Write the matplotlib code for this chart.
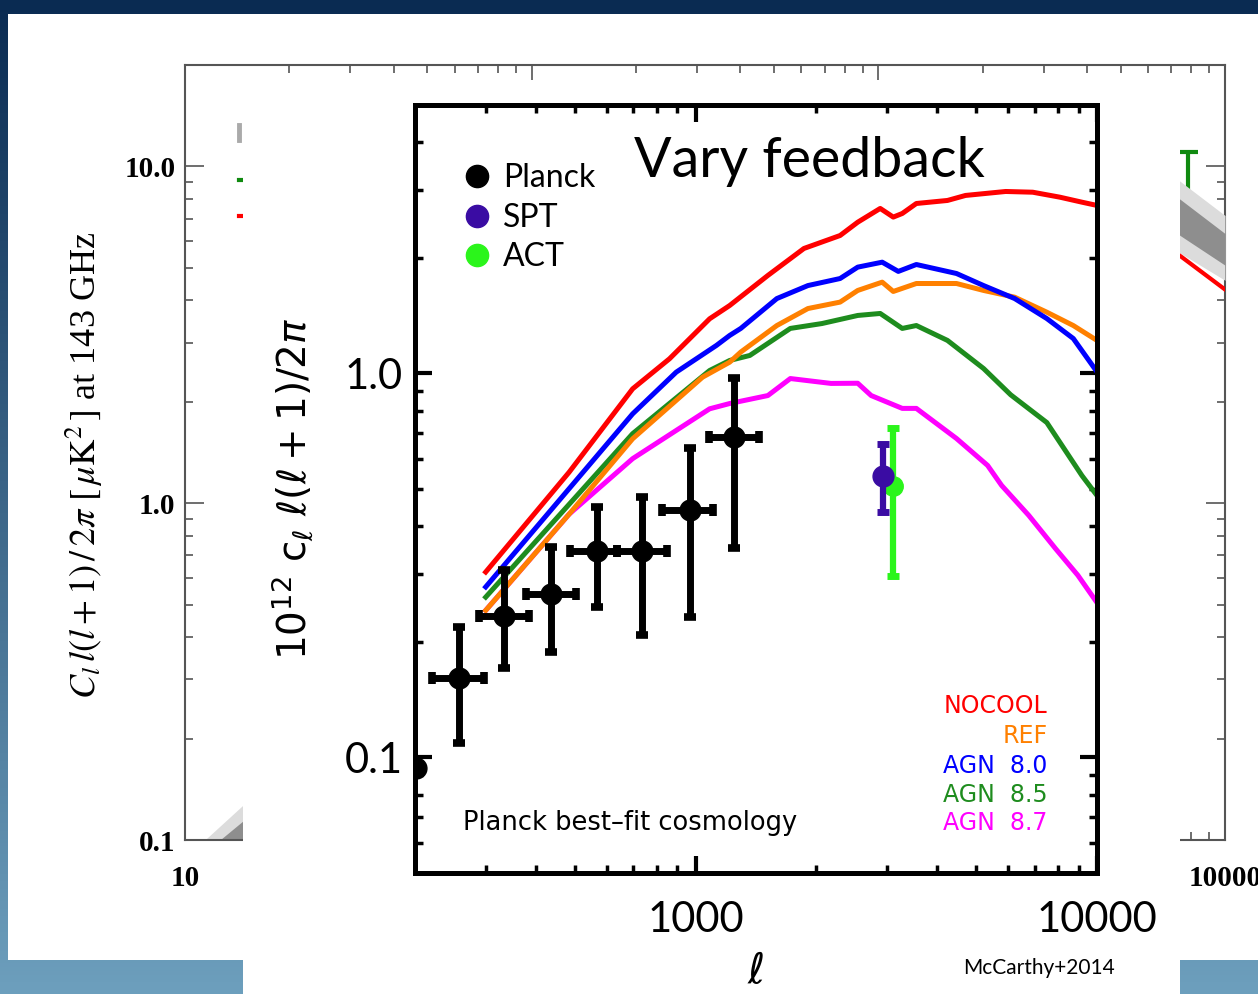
import numpy as np
import matplotlib.pyplot as plt
from matplotlib.patches import Rectangle
from matplotlib.lines import Line2D
from matplotlib.ticker import LogLocator, NullFormatter

# ---- front panel: tSZ power spectrum models vs data (McCarthy+2014) ----
# x = multipole ell, y = 10^12 C_l l(l+1)/2pi
nocool_ell = [300, 484, 697, 861, 1084, 1216, 1514, 1862, 2291, 2535, 2884, 3108, 3273, 3548, 4242, 4704, 5922, 6918, 8081, 9173, 10000]
nocool_val = [0.304, 0.553, 0.912, 1.092, 1.388, 1.503, 1.80, 2.116, 2.287, 2.477, 2.69, 2.554, 2.61, 2.771, 2.822, 2.908, 2.978, 2.965, 2.878, 2.793, 2.739]

ref_ell = [300, 484, 697, 1041, 1216, 1296, 1594, 1905, 2291, 2535, 2917, 3108, 3548, 4467, 5218, 6237, 7499, 8730, 10000]
ref_val = [0.2415, 0.43, 0.676, 0.978, 1.07, 1.137, 1.333, 1.476, 1.534, 1.645, 1.729, 1.635, 1.715, 1.715, 1.645, 1.58, 1.444, 1.333, 1.219]

agn80_ell = [300, 697, 895, 1127, 1216, 1296, 1594, 1905, 2291, 2535, 2917, 3199, 3548, 4467, 5218, 6237, 7499, 8730, 10000]
agn80_val = [0.278, 0.785, 1.008, 1.183, 1.256, 1.31, 1.567, 1.694, 1.767, 1.892, 1.949, 1.844, 1.922, 1.821, 1.694, 1.567, 1.39, 1.233, 1.01]

agn85_ell = [300, 697, 1084, 1216, 1365, 1722, 2065, 2535, 2884, 3273, 3548, 4242, 5218, 6095, 7499, 9173, 10000]
agn85_val = [0.2615, 0.697, 1.018, 1.081, 1.114, 1.31, 1.349, 1.416, 1.433, 1.31, 1.333, 1.219, 1.03, 0.88, 0.745, 0.542, 0.481]

agn87_ell = [300, 484, 697, 1084, 1216, 1514, 1722, 2175, 2535, 2738, 3273, 3548, 4467, 5340, 5786, 6761, 7880, 8964, 10000]
agn87_val = [0.2415, 0.43, 0.600, 0.809, 0.835, 0.876, 0.97, 0.942, 0.943, 0.876, 0.811, 0.811, 0.677, 0.576, 0.511, 0.427, 0.35, 0.298, 0.253]

model_names = ['NOCOOL', 'REF', 'AGN  8.0', 'AGN  8.5', 'AGN  8.7']
model_colors = ['#ff0000', '#ff8000', '#0000ff', '#1e8c1e', '#ff00ff']

planck_ell = [201, 257, 333, 437, 569, 737, 966, 1248]
planck_ell_lo = [201, 220, 288, 378, 487, 638, 827, 1078]
planck_ell_hi = [201, 297, 385, 504, 638, 851, 1103, 1437]
planck_val = [0.094, 0.161, 0.234, 0.267, 0.344, 0.344, 0.442, 0.685]
planck_lo = [0.094, 0.109, 0.171, 0.188, 0.246, 0.208, 0.232, 0.352]
planck_hi = [0.094, 0.218, 0.307, 0.354, 0.448, 0.478, 0.638, 0.976]

spt_ell, spt_val, spt_lo, spt_hi = [2930], [0.542], [0.435], [0.657]
act_ell, act_val, act_lo, act_hi = [3100], [0.509], [0.296], [0.722]

# ---- slide plot behind the panel (only edges visible) ----
bg_light_ell = [10, 11.4, 14.7, 20]
bg_light_top = [0.08, 0.1, 0.127, 0.175]
bg_dark_ell = [12.6, 14.7, 20]
bg_dark_top = [0.1, 0.114, 0.15]

hi_ell = [7000, 7465, 10000]
hi_light_top = [9.45, 8.99, 7.15]
hi_light_bot = [5.75, 5.51, 4.59]
hi_dark_top = [8.35, 7.95, 6.32]
hi_dark_bot = [6.5, 6.21, 5.09]
hi_red = [5.65, 5.40, 4.31]
hi_pt_ell, hi_pt_val, hi_pt_lo, hi_pt_hi = [7816], [8.0], [6.0], [11.04]

key_ell = [14.3, 20]
key_green = 9.12
key_red = 7.12
key_gray = [12.0, 13.3]


fig = plt.figure(figsize=(12.58, 9.94), dpi=100)

# slide gradient + white card
ax_slide = fig.add_axes([0, 0, 1, 1], zorder=0)
c_top = np.array([10, 43, 82]) / 255
c_bot = np.array([109, 159, 189]) / 255
t = np.linspace(0, 1, 256)[:, None]
grad = c_top + (c_bot - c_top) * t
ax_slide.imshow(grad[:, None, :], aspect='auto', extent=[0, 1, 0, 1])
ax_slide.axis('off')
fig.add_artist(Rectangle((8 / 1258, 34 / 994), 1, 946 / 994, transform=fig.transFigure,
                         facecolor='white', edgecolor='none', zorder=0.5))

# background plot
serif = 'Liberation Serif'
axb = fig.add_axes([0.1471, 0.1549, 0.8267, 0.7797], zorder=1)
axb.patch.set_visible(False)
axb.set_xscale('log')
axb.set_yscale('log')
axb.fill_between(bg_light_ell, 0.01, bg_light_top, color='#dcdcdc', lw=0)
axb.fill_between(bg_dark_ell, 0.01, bg_dark_top, color='#8e8e8e', lw=0)
axb.errorbar(hi_pt_ell, hi_pt_val,
             yerr=[np.subtract(hi_pt_val, hi_pt_lo), np.subtract(hi_pt_hi, hi_pt_val)],
             fmt='none', ecolor='#108a10', elinewidth=3, capsize=7, capthick=3)
axb.fill_between(hi_ell, hi_light_bot, hi_light_top, color='#dcdcdc', lw=0, zorder=3)
axb.fill_between(hi_ell, hi_dark_bot, hi_dark_top, color='#8e8e8e', lw=0, zorder=3)
axb.plot(hi_ell, hi_red, color='#ff0000', lw=3, zorder=4)
axb.plot(key_ell, [key_green] * 2, color='#108a10', lw=3)
axb.plot(key_ell, [key_red] * 2, color='#ff0000', lw=3)
axb.plot([key_ell[0]] * 2, key_gray, color='#aaaaaa', lw=3.5)
axb.set_xlim(10, 10000)
axb.set_ylim(0.1, 20)
axb.set_xticks([10, 100, 1000, 10000], ['10', '100', '1000', '10000'])
axb.set_yticks([0.1, 1, 10], ['0.1', '1.0', '10.0'])
axb.xaxis.set_minor_formatter(NullFormatter())
axb.yaxis.set_minor_formatter(NullFormatter())
axb.tick_params(which='both', direction='in', top=True, right=True, color='#555555')
axb.tick_params(which='major', length=14, width=1.2)
axb.tick_params(which='minor', length=6, width=1.2)
axb.tick_params(axis='y', pad=7)
axb.tick_params(axis='x', pad=18)
for lab in axb.get_xticklabels() + axb.get_yticklabels():
    lab.set_fontfamily(serif)
    lab.set_fontsize(21)
    lab.set_fontweight('bold')
for sp in axb.spines.values():
    sp.set_color('#555555')
    sp.set_linewidth(1.5)
axb.text(-0.097, 0.484, r'$C_l\, l(l+1)\,/\,2\pi\ [\,\mu\mathrm{K}^2\,]$ at 143 GHz',
         transform=axb.transAxes, rotation=90, ha='center', va='center',
         fontsize=26, family=serif, math_fontfamily='stix')

# white panel holding the pasted figure
fig.add_artist(Rectangle((243 / 1258, 0), 937 / 1258, 1 - 80 / 994, transform=fig.transFigure,
                         facecolor='white', edgecolor='none', zorder=2))

# front plot
sans = 'Lato'
ax = fig.add_axes([0.3299, 0.1217, 0.5421, 0.7726], zorder=3)
ax.set_xscale('log')
ax.set_yscale('log')
series = [(nocool_ell, nocool_val), (ref_ell, ref_val), (agn80_ell, agn80_val),
          (agn85_ell, agn85_val), (agn87_ell, agn87_val)]
draw_order = [4, 3, 1, 2, 0]
for i in draw_order:
    ax.plot(series[i][0], series[i][1], color=model_colors[i], lw=3.6, zorder=2)

ax.errorbar(planck_ell, planck_val,
            xerr=[np.subtract(planck_ell, planck_ell_lo), np.subtract(planck_ell_hi, planck_ell)],
            yerr=[np.subtract(planck_val, planck_lo), np.subtract(planck_hi, planck_val)],
            fmt='o', color='black', ms=15, elinewidth=5, capsize=4.5, capthick=5.5, zorder=4)
ax.errorbar(act_ell, act_val,
            yerr=[np.subtract(act_val, act_lo), np.subtract(act_hi, act_val)],
            fmt='o', color='#2bf51b', ms=14, elinewidth=4.5, capsize=4.5, capthick=5, zorder=4)
ax.errorbar(spt_ell, spt_val,
            yerr=[np.subtract(spt_val, spt_lo), np.subtract(spt_hi, spt_val)],
            fmt='o', color='#3a0ca3', ms=15, elinewidth=4.5, capsize=4.5, capthick=5, zorder=5)

ax.set_xlim(200, 10000)
ax.set_ylim(0.05, 5)
ax.set_xticks([1000, 10000], ['1000', '10000'])
ax.set_yticks([0.1, 1], ['0.1', '1.0'])
ax.xaxis.set_minor_locator(LogLocator(base=10, subs=np.arange(2, 10)))
ax.yaxis.set_minor_locator(LogLocator(base=10, subs=np.arange(2, 10)))
ax.xaxis.set_minor_formatter(NullFormatter())
ax.yaxis.set_minor_formatter(NullFormatter())
ax.tick_params(which='both', direction='in', top=True, right=True, color='black')
ax.tick_params(which='major', length=12, width=3)
ax.tick_params(which='minor', length=6, width=2.5)
ax.tick_params(axis='y', pad=9)
ax.tick_params(axis='x', pad=20)
for lab in ax.get_xticklabels() + ax.get_yticklabels():
    lab.set_fontfamily(sans)
    lab.set_fontsize(30)
for sp in ax.spines.values():
    sp.set_linewidth(3.6)

ax.set_xlabel(r'$\ell$', fontsize=30)
ax.xaxis.set_label_coords(0.5, -0.1)
ax.text(-0.18, 0.5, r'$10^{12}\ \mathsf{c}_{\ell}\ \ell(\ell+1)/2\pi$', transform=ax.transAxes,
        rotation=90, ha='center', va='center', fontsize=28)

ax.text(0.579, 0.927, 'Vary feedback', transform=ax.transAxes, ha='center', va='center',
        fontsize=40, family=sans)

handles = [Line2D([], [], marker='o', ls='none', color=c, ms=16)
           for c in ['black', '#3a0ca3', '#2bf51b']]
ax.legend(handles, ['Planck', 'SPT', 'ACT'], loc='upper left', bbox_to_anchor=(0.068, 0.924),
          frameon=False, handlelength=1.0, handletextpad=0.3, labelspacing=0.29,
          borderaxespad=0, borderpad=0, prop={'family': sans, 'size': 23})

label_y = [0.2174, 0.1784, 0.1393, 0.1016, 0.0651]
for name, col, yy in zip(model_names, model_colors, label_y):
    ax.text(0.928, yy, name, color=col, transform=ax.transAxes, ha='right', va='center',
            fontsize=17, family='DejaVu Sans')
ax.text(0.0704, 0.0651, 'Planck best\u2013fit cosmology', transform=ax.transAxes,
        ha='left', va='center', fontsize=18.5, family='DejaVu Sans')

fig.text(0.826, 0.0262, 'McCarthy+2014', ha='center', va='center', fontsize=15, family=sans)

fig.savefig('out.png', dpi=100)
